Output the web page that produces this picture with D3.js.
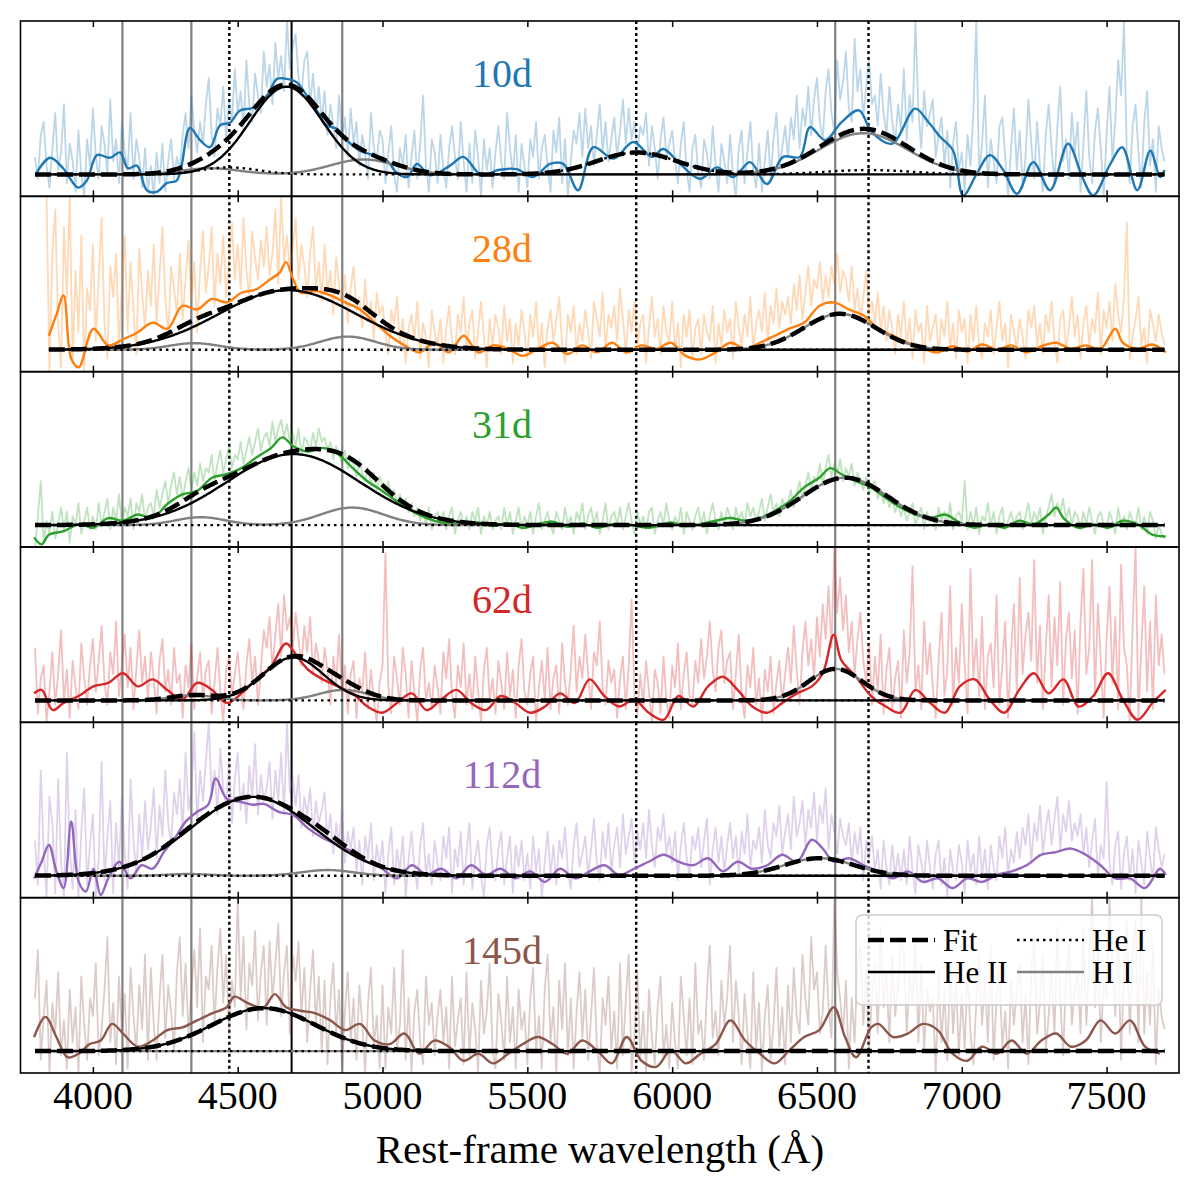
<!DOCTYPE html>
<html><head><meta charset="utf-8">
<script src="https://cdn.jsdelivr.net/npm/d3@7"></script>
<style>body{margin:0;background:#fff}</style>
</head><body>
<svg id="c" width="1200" height="1200" xmlns="http://www.w3.org/2000/svg"></svg>
<script>
// ---------------- DATA ----------------
const epochs = ["10d","28d","31d","62d","112d","145d"];
const colors = ["#1f77b4","#ff7f0e","#2ca02c","#d62728","#9467bd","#8c564b"];
const xTicks = [4000,4500,5000,5500,6000,6500,7000,7500];
const lineHeII = [4686];
const lineHI = [4102,4340,4861,6563];
const lineHeI = [4471,5876,6678];

// raw spectra: flux (x100, continuum = 0) on a regular 10 Å grid
const rawStart = [3800,3840,3800,3800,3800,3800];
const rawStep = 10;
const raw10 = [20,-5,45,60,10,-15,30,70,5,25, 80,-10,35,15,-20,50,0,-25,40,10, 75,20,-5,55,35,0,85,15,40,-10, 60,25,5,70,-5,40,20,-15,30,-20, 10,-25,25,-10,35,-20,15,40,-5,20, 5,45,70,30,90,50,25,60,35,80, 110,45,20,75,55,100,40,85,60,120, 70,95,50,130,80,60,115,90,70,140, 100,125,80,150,110,135,95,175,120,145, 160,110,90,130,140,80,115,70,100,60, 95,45,80,55,30,90,40,65,20,75, 35,60,10,45,25,-5,70,30,15,50, 40,-10,25,55,0,-20,30,10,45,-15, 20,50,-5,35,90,10,-20,40,25,-10, 45,5,-15,30,55,20,-5,60,15,-20, 35,-10,50,20,-25,40,5,30,-15,25, 55,15,-5,70,30,0,45,-20,35,10, -15,40,20,60,-5,30,45,10,-20,50, 25,65,-10,40,-25,15,50,35,70,20, 75,30,55,10,45,80,25,60,15,40, 65,20,50,85,35,75,40,60,25,55, 45,70,10,55,30,-5,40,65,20,35, 50,15,-10,35,60,5,-20,30,45,0, -15,40,25,-5,55,10,-20,35,15,-10, 45,0,-25,30,50,-10,25,60,5,-15, 35,-20,15,50,-5,40,70,10,30,55, 20,65,40,90,30,75,55,100,45,85, 110,60,40,95,120,70,50,130,85,105, 140,75,60,155,95,120,65,100,130,80, 90,55,115,70,45,100,60,35,80,50, 120,40,90,60,175,75,30,95,55,70, 85,20,45,65,10,50,-15,35,60,5, 25,-20,45,10,70,175,0,35,90,-15, 40,15,-10,55,65,20,-25,30,75,5, 50,-15,20,85,35,-5,60,10,-20,45, 80,30,-10,55,100,15,40,-5,70,25, 60,-20,35,95,20,-10,50,75,30,-25, 45,100,15,60,130,90,175,20,-10,55, 80,25,-15,60,95,10,40,-20,55,30, 15];
const raw28 = [175,-25,110,160,30,-20, 140,60,175,-15,90,20,130,-25,70,45, 120,10,85,150,30,-10,95,60,110,5, 75,130,20,100,45,-5,115,65,25,90, 50,120,30,85,140,60,15,95,70,40, 110,35,80,125,55,100,20,90,135,65, 95,140,50,110,75,130,60,100,145,80, 120,70,150,90,60,135,105,80,125,95, 140,85,110,160,75,175,100,130,90,115, 150,80,120,95,60,110,140,70,100,55, 120,65,90,40,105,75,50,85,30,70, 95,45,60,25,80,35,55,10,65,40, 50,20,-5,45,30,60,5,35,-15,25, 40,10,55,-10,30,15,-20,45,20,5, 35,-15,25,50,10,-5,40,20,60,0, 30,45,-10,20,55,15,-20,35,5,40, 25,-5,50,10,35,-15,30,5,45,20, -10,40,15,55,0,30,-20,25,45,10, 35,60,5,-15,40,20,50,-5,30,10, 45,20,-10,55,35,15,65,0,40,25, 50,10,70,35,-5,45,20,55,5,30, 40,-15,25,60,15,35,-5,50,20,10, 55,0,30,-20,40,15,45,-10,25,35, -5,40,20,10,50,-15,30,5,45,20, 35,-10,55,25,5,40,15,60,0,30, 45,20,65,10,50,30,70,25,55,40, 60,30,75,45,85,35,65,95,50,80, 70,100,55,85,60,95,75,110,65,90, 80,55,95,45,70,35,60,90,40,55, 30,65,20,50,10,45,25,-5,40,15, 55,5,35,-10,45,20,30,-15,50,10, 25,40,-5,35,15,55,0,30,-10,45, 20,35,-15,40,10,50,5,-10,30,15, 45,-5,25,55,10,30,-20,40,20,0, 35,15,-10,45,25,50,5,30,-5,40, 20,55,10,-15,35,45,0,25,60,15, 40,-10,30,50,5,35,20,65,-5,45, 25,55,10,75,40,20,60,145,-10,15, 35,60,5,25,-15,45,30,10,40,20, 5];
const raw31 = [-25,10,50,-20,5,-10,15,-15,0,20, -5,15,-20,10,0,25,-10,5,20,-5, 10,-5,25,0,15,30,-5,20,5,35, 0,20,10,30,-5,25,15,35,5,20, 25,10,40,20,35,50,25,45,60,35, 55,30,50,65,40,60,45,70,50,65, 60,80,50,70,85,60,75,90,65,80, 75,95,70,85,100,80,95,110,85,100, 105,90,118,95,110,120,100,115,95,105, 90,110,80,100,95,85,105,90,110,95, 100,85,95,75,90,80,70,85,65,75, 70,55,75,60,50,65,45,60,40,55, 45,35,50,30,40,25,35,20,30,15, 25,10,20,5,15,0,20,-5,10,15, 0,15,-5,10,20,-10,5,15,0,10, -5,15,5,20,-10,10,0,15,-5,5, 10,-5,20,0,15,-10,5,20,-5,10, 0,15,-10,10,25,-5,5,15,0,-10, 15,5,-5,20,0,10,-10,15,5,25, -5,10,20,0,15,-10,5,25,-5,10, 15,0,20,-5,10,25,5,-10,15,0, 10,-5,15,20,-10,5,15,0,25,5, -5,10,0,20,-10,15,5,-5,10,20, 0,15,-10,10,25,5,-5,15,0,20, 10,-5,20,5,15,0,25,10,20,5, 15,30,5,20,35,15,25,10,30,20, 25,40,20,35,50,30,45,60,40,55, 50,70,45,65,80,55,70,60,75,50, 65,55,70,45,60,50,40,55,35,45, 50,30,40,25,35,20,30,15,25,10, 20,5,15,25,0,10,20,-5,15,5, 10,-5,20,5,15,0,25,-5,10,15, 5,50,-5,15,0,20,-10,10,5,25, 0,15,-10,10,20,-5,5,15,0,10, 15,-5,10,25,0,15,5,20,-10,10, 20,35,10,25,15,30,5,20,0,15, 10,-5,15,0,20,5,-10,10,15,0, -5,15,5,-10,20,0,10,-5,15,5, 0,20,-5,10,-10,15,5,-15,0,-10, -15];
const raw62 = [60,-15,25,40,-25,10,55,-5,30,80, 0,35,-20,45,15,-10,65,25,-5,40, 70,10,45,85,20,-5,55,30,90,5, 40,75,15,60,-10,35,80,20,50,0, 55,25,-15,45,70,10,35,-5,60,20, 30,-20,40,15,65,-10,25,55,0,35, 45,-15,20,60,10,-25,35,50,5,30, 55,15,-10,40,70,20,50,-5,35,80, 60,95,35,75,110,50,120,80,95,60, 100,70,40,85,55,95,30,65,45,20, 60,35,-5,50,20,75,5,40,-15,30, 45,-20,25,10,55,-10,35,0,-25,20, 40,168,15,-15,50,25,-5,60,30,-20, 45,10,-25,35,60,0,20,-10,40,15, -15,55,25,70,5,-20,40,15,65,-5, 30,-10,50,10,-25,35,60,0,25,-15, 45,20,-10,55,5,35,-20,40,70,10, -5,30,50,-25,15,45,0,60,-10,25, 40,-15,65,20,-5,35,85,10,50,25, 75,30,-10,55,40,90,15,-5,45,20, 35,-20,25,50,-10,40,115,5,-15,30, -5,45,10,-25,35,20,-15,50,0,-20, 40,15,65,-10,30,55,5,-5,45,20, 70,25,50,90,35,10,60,80,20,45, 55,-10,30,75,5,-20,40,15,60,-5, 25,-25,35,10,50,-15,20,45,-5,30, 60,20,85,35,-5,55,90,40,70,25, 95,50,110,70,130,60,175,100,140,80, 120,55,90,30,70,100,45,20,65,-5, 50,10,75,-15,35,60,-10,25,45,-20, 80,20,55,153,10,40,-10,90,30,65, 15,-20,45,100,5,35,130,-5,60,20, 110,40,-15,150,25,70,5,95,-10,50, 65,15,120,-5,40,90,-20,55,110,10, 140,30,75,100,45,160,20,85,-10,60, 120,15,95,40,135,-5,70,100,25,80, -15,90,150,30,60,160,5,110,45,-20, 70,130,20,95,-10,155,60,40,-25,85, 175,-20,60,130,10,90,-10,120,40,75, 30];
const raw112 = [40,-10,120,30,-25,90,60,-20,110,15, -25,140,30,-15,75,-25,50,100,-10,35, 70,-25,20,130,-5,45,85,-20,60,10, 90,25,-15,110,40,0,70,20,85,30, 55,100,20,80,45,120,60,35,95,70, 110,50,140,75,95,164,60,120,85,130, 175,90,120,70,145,100,80,130,60,110, 140,75,105,60,125,90,150,70,115,85, 100,130,65,120,85,140,70,175,95,110, 80,115,55,90,70,100,45,85,60,75, 95,40,70,25,60,35,80,15,50,30, 55,5,40,-10,45,20,60,-5,35,10, 40,-20,25,55,-10,30,5,45,-25,20, 50,10,-15,35,60,0,25,-10,40,15, -5,45,20,55,-20,30,10,50,-10,25, 60,-15,20,40,0,-25,35,55,5,-5, 30,50,-10,20,45,-20,35,10,40,-5, 25,-15,45,5,30,-25,15,50,0,35, -10,40,20,55,5,-15,35,60,10,25, 45,0,30,65,15,-5,50,20,60,5, 35,55,10,70,25,45,65,15,50,30, 60,20,75,35,10,55,40,70,25,45, 15,50,-5,35,60,20,0,45,30,55, 10,40,65,-10,30,55,15,45,5,35, 60,20,45,0,50,25,70,10,40,30, 55,15,75,35,20,60,45,80,25,50, 70,30,90,45,60,85,35,75,55,95, 40,80,60,100,30,70,50,25,65,45, 35,60,15,50,25,55,-5,40,20,45, 5,30,-15,40,10,-10,35,0,25,-5, 30,-10,45,5,-20,35,15,-5,40,10, -15,25,40,-10,20,-25,30,5,-5,35, 15,-20,40,5,25,-10,45,0,30,-15, 35,10,-5,45,20,55,0,30,15,50, 20,55,35,70,15,60,40,80,25,55, 75,35,65,90,30,70,50,85,40,60, 45,70,25,55,10,40,65,0,35,20, 107,15,-10,35,50,-15,25,45,-5,30, -20,40,15,-10,50,20,-5,55,30,10, 25];
const raw145 = [60,115,-10,40,80,-25,55,20,90,-5, 35,-20,70,10,50,-25,85,30,-10,60, 40,100,-5,25,70,130,10,55,-15,85, 20,65,-20,95,40,0,75,25,110,-10, 95,30,-10,60,110,15,75,45,0,90, 130,40,100,20,70,115,50,140,10,85, 70,120,30,95,140,55,110,20,80,50, 175,60,130,25,100,75,137,35,90,120, 30,125,60,100,145,40,90,120,20,110, 80,125,40,95,10,70,115,30,85,0, 80,-15,60,100,20,70,-20,45,90,10, 60,-10,75,30,-25,55,95,5,40,-20, 75,-20,50,20,95,0,30,115,-10,60, -25,45,70,10,-15,85,30,55,-5,40, 70,10,50,-20,85,5,35,60,-15,90, -5,55,25,-25,80,20,45,100,0,-20, 65,35,-10,85,10,50,-20,70,25,45, -15,60,95,0,40,-20,70,110,10,50, -25,80,25,100,-5,60,-20,45,90,15, 70,-10,40,95,5,-25,60,30,85,0, 45,-20,100,-5,60,110,-25,20,90,-10, 45,-25,70,15,-15,50,85,-5,30,-20, 55,10,-20,85,40,-5,60,-15,100,20, 35,-10,70,120,15,45,-5,80,30,60, 120,10,80,40,-15,65,20,-20,90,0, 55,-25,40,75,-10,30,95,5,50,-15, 75,10,95,40,20,110,60,30,130,70, 90,20,45,120,50,15,175,90,60,20, 80,-20,60,10,100,120,30,90,0,65, 100,20,140,50,90,10,110,40,75,130, 110,20,90,55,130,10,100,0,70,45, 60,-25,90,10,70,-10,100,20,80,-5, 65,0,95,20,-15,55,110,30,85,10, 120,-10,60,90,5,45,-20,80,30,70, 100,10,65,-15,90,130,20,55,110,0, 40,90,20,140,60,-5,85,120,30,70, 90,20,140,30,100,175,50,120,10,80, 60,175,100,40,130,-10,90,150,20,110, 150,10,175,20,90,30,120,-15,70,40, 25];
const rawFlux = [raw10,raw28,raw31,raw62,raw112,raw145];

// smoothed spectra: read points (wavelength Å, flux x100)
const sm10W = [3806,3852,3897,3949,3979,4014,4059,4094,4121,4152,4186,4220,4255,4289,4306,4335,4370,4404,4439,4473,4508,4553,4601,4636,4669,4704,4738,4773,4807,4842,4876,4922,4968,5014,5049,5085,5119,5164,5233,5279,5342,5399,5463,5520,5578,5624,5675,5728,5797,5866,5930,5969,6027,6096,6155,6211,6269,6327,6383,6441,6476,6528,6586,6645,6690,6759,6839,6884,6925,6970,7005,7052,7097,7143,7191,7247,7305,7367,7416,7454,7513,7554,7606,7651,7685,7700];
const sm10F = [2,19,7,-15,-7,22,19,25,7,10,-18,-20,-10,-7,10,53,39,31,56,59,73,76,90,109,109,105,90,73,56,52,39,27,22,16,2,-3,12,-1,10,20,-1,5,6,-3,12,12,-18,31,18,37,20,29,12,-5,8,-3,14,-11,20,20,54,39,60,73,48,35,75,60,43,27,-24,1,22,5,-22,14,-18,35,-3,-24,12,31,-18,27,-3,5];
const sm28W = [3848,3874,3899,3925,3951,4002,4053,4104,4155,4206,4257,4309,4360,4411,4462,4513,4564,4615,4645,4667,4692,4718,4769,4820,4871,4922,4973,5025,5076,5127,5178,5229,5280,5331,5382,5434,5485,5536,5587,5638,5689,5740,5792,5843,5894,5945,5996,6047,6098,6150,6201,6252,6303,6354,6405,6456,6508,6558,6610,6661,6712,6763,6814,6866,6917,6968,7019,7070,7121,7172,7224,7275,7326,7377,7428,7479,7530,7556,7607,7658,7704];
const sm28F = [16,40,62,-10,-20,24,5,12,20,31,24,50,46,58,54,65,69,81,88,100,80,65,67,62,54,46,31,16,5,-3,8,-3,16,-3,5,1,-7,1,8,-5,5,-3,8,-3,5,1,8,-7,-11,-3,8,1,8,16,24,31,50,54,46,39,24,16,8,1,-3,4,-2,6,0,5,-3,4,8,1,5,1,24,8,1,6,-3];
const sm31W = [3797,3823,3848,3899,3951,4002,4053,4104,4155,4206,4257,4309,4360,4411,4462,4513,4564,4615,4654,4692,4743,4794,4846,4897,4948,4999,5050,5101,5152,5203,5280,5331,5382,5434,5485,5536,5587,5638,5689,5740,5792,5843,5919,5996,6047,6150,6201,6252,6303,6354,6405,6456,6508,6546,6584,6635,6687,6738,6789,6840,6891,6942,6993,7045,7096,7147,7198,7249,7300,7326,7351,7403,7454,7505,7556,7607,7658,7704];
const sm31F = [-14,-22,-11,-7,1,-3,8,5,12,8,24,35,39,54,58,65,77,88,100,90,84,88,81,65,50,39,27,16,8,3,1,3,-1,2,-3,1,4,-2,2,-3,1,1,-3,3,-1,5,8,5,8,16,27,43,54,65,58,50,43,31,20,12,8,12,3,-3,1,-3,5,1,12,20,8,-3,1,-3,5,1,-11,-13];
const sm62W = [3797,3823,3861,3899,3951,4002,4053,4104,4155,4206,4257,4309,4360,4411,4462,4513,4564,4615,4667,4705,4743,4794,4846,4897,4948,4999,5050,5101,5152,5203,5255,5306,5357,5408,5459,5510,5561,5613,5664,5715,5766,5817,5868,5919,5971,6022,6073,6124,6175,6226,6277,6328,6380,6431,6482,6520,6558,6584,6635,6687,6738,6789,6840,6891,6942,6993,7045,7096,7147,7198,7249,7300,7351,7403,7454,7505,7556,7607,7658,7704];
const sm62F = [8,12,-11,-3,5,16,20,31,16,24,12,1,20,12,-3,8,24,39,65,50,35,24,16,8,-7,-14,-3,8,-11,1,12,-3,-11,5,-3,-14,-7,8,-3,24,5,-7,1,-14,-22,5,-7,16,27,12,-7,-14,-3,8,16,31,75,46,27,5,-7,-14,12,-3,-14,16,24,1,-14,12,31,8,24,-7,5,31,1,-22,-3,12];
const sm112W = [3797,3823,3848,3874,3899,3925,3951,3976,4002,4027,4053,4091,4130,4168,4206,4245,4283,4321,4360,4398,4424,4462,4513,4551,4590,4641,4692,4743,4794,4846,4897,4948,4999,5050,5101,5152,5203,5255,5306,5357,5408,5459,5510,5561,5613,5664,5715,5766,5817,5868,5919,5971,6022,6073,6124,6175,6226,6277,6328,6380,6431,6482,6520,6558,6610,6661,6712,6763,6814,6866,6917,6968,7019,7070,7121,7172,7224,7275,7326,7377,7428,7479,7530,7581,7633,7684,7704];
const sm112F = [-3,16,35,5,-14,62,-7,-18,8,-22,-3,16,-3,12,8,27,43,62,73,81,111,88,84,81,82,73,69,54,43,35,27,16,8,-3,12,1,8,-3,12,1,8,-3,5,-7,8,-3,5,12,1,8,16,24,16,12,20,5,16,8,12,24,16,41,31,16,20,12,5,-3,5,-7,-3,-14,-3,-7,1,5,12,24,27,31,24,12,-3,-3,-14,8,1];
const sm145W = [3797,3836,3874,3912,3951,3989,4027,4066,4104,4155,4206,4257,4309,4360,4411,4462,4488,4539,4590,4628,4667,4718,4769,4820,4871,4922,4973,5025,5076,5127,5178,5229,5280,5331,5382,5434,5485,5536,5587,5638,5689,5740,5792,5843,5894,5945,5996,6047,6098,6150,6201,6252,6303,6354,6405,6456,6508,6558,6597,6635,6687,6712,6763,6814,6866,6917,6968,7019,7070,7121,7172,7224,7275,7326,7377,7428,7479,7530,7581,7633,7684];
const sm145F = [16,39,16,-7,-3,8,12,31,20,5,12,24,27,35,43,50,62,54,50,65,50,46,43,35,24,31,12,8,20,-3,12,5,-11,-3,-14,-3,8,16,8,-3,12,1,-14,16,-11,-18,1,-14,-3,8,35,12,-3,-14,1,16,24,50,16,-7,27,31,16,20,31,24,-3,-11,5,-3,12,-3,12,20,5,12,35,20,35,5,-3];
const smW = [sm10W,sm28W,sm31W,sm62W,sm112W,sm145W];
const smF = [sm10F,sm28F,sm31F,sm62F,sm112F,sm145F];

// Gaussian fit components: [centre Å, amplitude x100, sigma Å]
const fitHeII = [[4668,100,125],[4672,68,235],[4692,81,230],[4692,49,104],[4551,90,212],[4590,49,179]];
const fitHI = [
  [[4405,7,100],[4935,17,115],[6660,47,152]],
  [[4350,7.5,85],[4880,15,95],[6579,41,125]],
  [[4372,9,85],[4895,20,108],[6597,54,147]],
  [[4347,6,75],[4865,12,85],[6564,36,92]],
  [[4330,2,70],[4810,6.5,90],[6508,20,120]],
  []
];
const fitHeI = [
  [[4471,8,100],[5878,25,138],[6678,5,150]],
  [],[],[],[],[]
];
const fitRange = [[3800,7700],[3848,7700],[3800,7700],[3800,7700],[3800,7700],[3800,7700]];

// ---------------- DRAW ----------------
const plotL = 20.5, plotR = 1179, plotT = 21, plotB = 1073;
const nP = epochs.length, pH = (plotB - plotT) / nP;
const serif = "'Liberation Serif','Times New Roman',Times,serif";
const svg = d3.select("#c");
svg.append("rect").attr("width",1200).attr("height",1200).attr("fill","#fff");
const x = d3.scaleLinear().domain([3750,7750]).range([plotL, plotR]);

function gaussSum(comps, lam){
  let s = 0;
  for (const [c,a,w] of comps) s += a*Math.exp(-0.5*((lam-c)/w)**2);
  return s;
}

for (let i = 0; i < nP; i++) {
  const top = plotT + i*pH, bot = top + pH;
  const y = d3.scaleLinear().domain([-25,175]).range([bot, top]);
  const cid = "clip"+i;
  svg.append("clipPath").attr("id",cid).append("rect")
     .attr("x",plotL).attr("y",top).attr("width",plotR-plotL).attr("height",pH);
  const g = svg.append("g").attr("clip-path",`url(#${cid})`);

  // reference lines
  g.selectAll(".hi").data(lineHI).enter().append("line")
    .attr("x1",d=>x(d)).attr("x2",d=>x(d)).attr("y1",top).attr("y2",bot)
    .attr("stroke","#808080").attr("stroke-width",2.2);
  g.selectAll(".he2").data(lineHeII).enter().append("line")
    .attr("x1",d=>x(d)).attr("x2",d=>x(d)).attr("y1",top).attr("y2",bot)
    .attr("stroke","#000").attr("stroke-width",2);
  g.selectAll(".he1").data(lineHeI).enter().append("line")
    .attr("x1",d=>x(d)).attr("x2",d=>x(d)).attr("y1",top).attr("y2",bot)
    .attr("stroke","#000").attr("stroke-width",2.4).attr("stroke-dasharray","3,3");

  // raw spectrum
  const raw = rawFlux[i].map((f,k)=>[rawStart[i]+k*rawStep, f]);
  g.append("path").datum(raw)
    .attr("d", d3.line().x(d=>x(d[0])).y(d=>y(d[1])))
    .attr("fill","none").attr("stroke",colors[i]).attr("stroke-opacity",0.3)
    .attr("stroke-width",1.8).attr("stroke-linejoin","round");

  // smoothed spectrum
  const sm = smW[i].map((w,k)=>[w, smF[i][k]]);
  g.append("path").datum(sm)
    .attr("d", d3.line().curve(d3.curveCatmullRom.alpha(0.5)).x(d=>x(d[0])).y(d=>y(d[1])))
    .attr("fill","none").attr("stroke",colors[i]).attr("stroke-width",2.4);

  // fit components
  const lams = d3.range(fitRange[i][0], fitRange[i][1]+0.1, 4);
  const mk = comps => lams.map(l=>[l, gaussSum(comps,l)]);
  const ln = d3.line().x(d=>x(d[0])).y(d=>y(d[1]));
  g.append("path").datum(mk(fitHI[i])).attr("d",ln)
    .attr("fill","none").attr("stroke","#808080").attr("stroke-width",2.4);
  g.append("path").datum(mk(fitHeI[i])).attr("d",ln)
    .attr("fill","none").attr("stroke","#000").attr("stroke-width",2.4).attr("stroke-dasharray","2.5,4");
  g.append("path").datum(mk([fitHeII[i]])).attr("d",ln)
    .attr("fill","none").attr("stroke","#000").attr("stroke-width",2.4);
  const all = [fitHeII[i], ...fitHI[i], ...fitHeI[i]];
  g.append("path").datum(mk(all)).attr("d",ln)
    .attr("fill","none").attr("stroke","#000").attr("stroke-width",4.5).attr("stroke-dasharray","16,6");

  // ticks (inward, top & bottom)
  svg.append("g").attr("transform",`translate(0,${bot})`)
    .call(d3.axisBottom(x).tickValues(xTicks).tickSize(-6).tickFormat(""))
    .call(a=>{a.select(".domain").remove(); a.selectAll("line").attr("stroke","#000").attr("stroke-width",1.5);});
  svg.append("g").attr("transform",`translate(0,${top})`)
    .call(d3.axisTop(x).tickValues(xTicks).tickSize(-6).tickFormat(""))
    .call(a=>{a.select(".domain").remove(); a.selectAll("line").attr("stroke","#000").attr("stroke-width",1.5);});

  // frame
  svg.append("rect").attr("x",plotL).attr("y",top).attr("width",plotR-plotL).attr("height",pH)
    .attr("fill","none").attr("stroke","#000").attr("stroke-width",1.6);

  // epoch label
  svg.append("text").attr("x",502).attr("y",top+66).attr("text-anchor","middle")
    .attr("font-family",serif).attr("font-size",40).attr("fill",colors[i]).text(epochs[i]);
}

// x tick labels
svg.append("g").selectAll("text").data(xTicks).enter().append("text")
  .attr("x",d=>x(d)).attr("y",1109).attr("text-anchor","middle")
  .attr("font-family",serif).attr("font-size",40).attr("fill","#000").text(d=>d);
svg.append("text").attr("x",600).attr("y",1163).attr("text-anchor","middle")
  .attr("font-family",serif).attr("font-size",41).attr("fill","#000").text("Rest-frame wavelength (Å)");

// legend
const lg = svg.append("g");
lg.append("rect").attr("x",856).attr("y",915).attr("width",306).attr("height",90).attr("rx",6)
  .attr("fill","#fff").attr("fill-opacity",0.8).attr("stroke","#cccccc").attr("stroke-width",1.5);
const legendItems = [
  {label:"Fit", x0:868, yy:940, stroke:"#000", w:4.5, dash:"16,6"},
  {label:"He I", x0:1017, yy:940, stroke:"#000", w:2.4, dash:"2.5,4"},
  {label:"He II", x0:868, yy:972, stroke:"#000", w:2.4, dash:null},
  {label:"H I", x0:1017, yy:972, stroke:"#808080", w:2.4, dash:null}
];
legendItems.forEach(it=>{
  lg.append("line").attr("x1",it.x0).attr("x2",it.x0+67).attr("y1",it.yy).attr("y2",it.yy)
    .attr("stroke",it.stroke).attr("stroke-width",it.w).attr("stroke-dasharray",it.dash);
  lg.append("text").attr("x",it.x0+75).attr("y",it.yy+11).attr("font-family",serif)
    .attr("font-size",31).attr("fill","#000").text(it.label);
});
</script>
</body></html>
